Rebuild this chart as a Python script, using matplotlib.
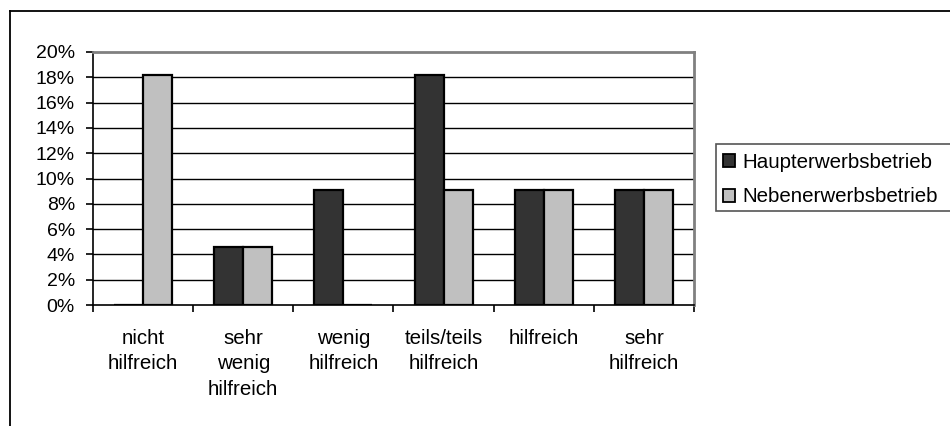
import matplotlib
matplotlib.use("Agg")
import matplotlib.pyplot as plt
import numpy as np
from matplotlib.lines import Line2D
from matplotlib.patches import Patch, Rectangle

categories = ["nicht\nhilfreich", "sehr\nwenig\nhilfreich", "wenig\nhilfreich",
              "teils/teils\nhilfreich", "hilfreich", "sehr\nhilfreich"]
haupt = [0.0, 4.55, 9.09, 18.18, 9.09, 9.09]
neben = [18.18, 4.55, 0.0, 9.09, 9.09, 9.09]
series_names = ["Haupterwerbsbetrieb", "Nebenerwerbsbetrieb"]
yticks = [0, 2, 4, 6, 8, 10, 12, 14, 16, 18, 20]

plt.rcParams['font.family'] = ['Liberation Sans', 'DejaVu Sans']
FS = 14
FS2 = 14.8

W, H = 950, 426
fig = plt.figure(figsize=(W / 100, H / 100), dpi=100)
fig.patch.set_facecolor('white')

# outer chart frame (left & top visible, continues beyond image)
fig.add_artist(Line2D([9.5 / W, 9.5 / W], [0, 1 - 11 / H], color='black', lw=1.3, transform=fig.transFigure))
fig.add_artist(Line2D([9.5 / W, 1], [1 - 11 / H, 1 - 11 / H], color='black', lw=1.3, transform=fig.transFigure))

left, right, top, bottom = 93, 694, 52, 305
ax = fig.add_axes([left / W, 1 - bottom / H, (right - left) / W, (bottom - top) / H])

x = np.arange(len(categories))
bw = 0.29
ax.bar(x - bw / 2, haupt, width=bw, color='#333333', edgecolor='black', linewidth=1.6, zorder=3)
ax.bar(x + bw / 2, neben, width=bw, color='#C0C0C0', edgecolor='black', linewidth=1.6, zorder=3)

ax.set_xlim(-0.5, len(categories) - 0.5)
ax.set_ylim(0, 20)
ax.set_yticks(yticks)
ax.set_yticklabels([f"{v}%" for v in yticks], fontsize=FS)
for v in yticks[1:-1]:
    ax.axhline(v, color='black', lw=1.0, zorder=1)

ax.set_xticks(np.arange(len(categories) + 1) - 0.5)
ax.set_xticklabels([])
ax.set_xticks(x, minor=True)
ax.set_xticklabels(categories, minor=True, fontsize=FS2, linespacing=1.45)
ax.tick_params(axis='x', which='minor', length=0, pad=17)
ax.tick_params(axis='x', which='major', length=5, width=1.2, color='black', direction='out')
ax.tick_params(axis='y', length=5, width=1.2, color='black', direction='out', pad=8)

for s in ['top', 'right']:
    ax.spines[s].set_color('#808080')
    ax.spines[s].set_linewidth(2)
ax.spines['left'].set_color('black')
ax.spines['left'].set_linewidth(1.2)
ax.spines['bottom'].set_color('black')
ax.spines['bottom'].set_linewidth(1.2)

# legend frame (extends beyond the right image edge)
fig.add_artist(Rectangle((716 / W, 1 - 211 / H), 260 / W, 67 / H, transform=fig.transFigure,
                         facecolor='white', edgecolor='#555555', linewidth=1.2, zorder=1))
handles = [Patch(facecolor='#333333', edgecolor='black', linewidth=1.3),
           Patch(facecolor='#C0C0C0', edgecolor='black', linewidth=1.3)]
leg = fig.legend(handles, series_names, loc='upper left',
                 bbox_to_anchor=(719 / W, 1 - 149 / H), fontsize=FS2,
                 frameon=False, handlelength=0.6, handleheight=0.6,
                 handletextpad=0.35, borderpad=0.2, labelspacing=0.74,
                 borderaxespad=0)
leg.set_zorder(2)

fig.savefig('out.png', dpi=100, facecolor='white')
